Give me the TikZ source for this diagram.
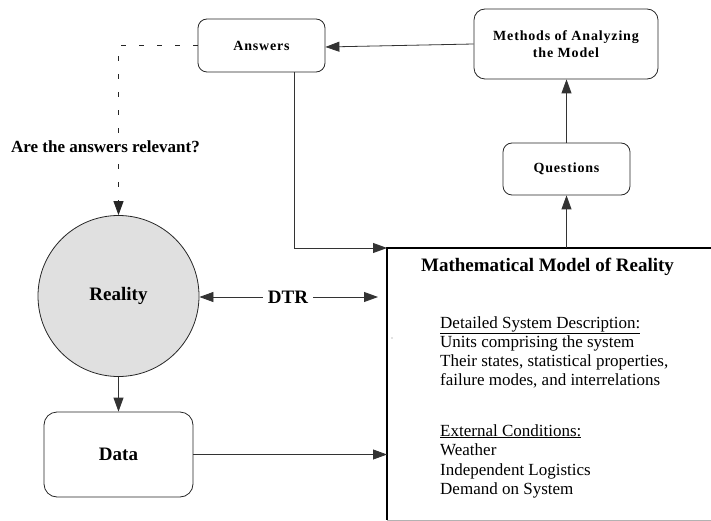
\documentclass[tikz,border=0pt]{standalone}
\usepackage{fontspec}
\setmainfont{Liberation Serif}
\newfontfamily\spacedbold[LetterSpace=6]{Liberation Serif}
\usetikzlibrary{arrows.meta,calc}

\begin{document}
\begin{tikzpicture}[x=1pt,y=-1pt,
  box/.style={draw=black!85, line width=0.8pt, rounded corners=9pt, inner sep=0pt, align=center},
  boxfont/.style={font=\spacedbold\bfseries\fontsize{14}{17}\selectfont},
  bigfont/.style={font=\bfseries\fontsize{19}{22}\selectfont},
  bodytext/.style={font=\fontsize{17}{19}\selectfont, anchor=base west, inner sep=0pt},
  arr/.style={draw=black!80, line width=0.8pt, -{Triangle[length=14pt,width=10pt]}},
  dasharr/.style={draw=black!85, line width=0.8pt, dash pattern=on 5pt off 13pt,
                  -{Triangle[length=14pt,width=10pt]}},
  edge/.style={draw=black, line width=1.2pt}
]
\useasboundingbox (0,0) rectangle (711,521);

% analysis chain
\node[box, boxfont, minimum width=127pt, minimum height=53pt] (answers) at (261.5,45.5) {Answers};
\node[box, boxfont, minimum width=184pt, minimum height=70pt, rounded corners=11pt] (methods) at (566,44) {Methods of Analyzing\\the Model};
\node[box, boxfont, minimum width=127pt, minimum height=52pt] (questions) at (566.5,169) {Questions};

% reality and data
\node[circle, draw=black!85, line width=0.8pt, fill=black!12, minimum size=161pt, inner sep=0pt, bigfont] (reality) at (118.5,296) {Reality};
\node[box, bigfont, minimum width=149pt, minimum height=85pt, rounded corners=13pt] (data) at (118.5,454.5) {Data};

% the model box (right side runs off the page)
\node[minimum width=324pt, minimum height=272pt, inner sep=0pt, anchor=north west] (model) at (387,248) {};
\draw[edge] (model.north east) -- (model.north west) -- (model.south west);
\draw[black!30, line width=0.8pt] (model.south west) -- (model.south east);

\node[bigfont, anchor=base, inner sep=0pt] (title) at (547.5,271) {Mathematical Model of Reality};
\node[bodytext] (d0) at (440,328) {\underline{Detailed System Description:}};
\node[bodytext] (d1) at (440,347.5) {Units comprising the system};
\node[bodytext] (d2) at (440,366.7) {Their states, statistical properties,};
\node[bodytext] (d3) at (440,385.8) {failure modes, and interrelations};
\node[bodytext] (e0) at (440,436) {\underline{External Conditions:}};
\node[bodytext] (e1) at (440,455) {Weather};
\node[bodytext] (e2) at (440,475) {Independent Logistics};
\node[bodytext] (e3) at (440,494) {Demand on System};
\fill[black!50] (392,338) circle (0.6pt);

% DTR link
\node[bigfont, inner sep=5pt] (dtr) at (288,297) {DTR};
\coordinate (dtrend) at (378,297);
\draw[arr] (dtr.west) -- (reality.east |- dtr.west);
\draw[arr] (dtr.east) -- (dtrend);

% connectors
\draw[arr] (methods.west |- answers.east) ++(0,-1.5) -- ([yshift=-1.5pt]answers.east);
\draw[arr] (questions.north) -- (methods.south -| questions.north);
\draw[arr] (questions.south |- model.north) -- (questions.south);
\draw[arr] ([xshift=32.5pt]answers.south) |- (model.north west);
\draw[arr] (reality.south) -- (data.north);
\draw[arr] (data.east) -- (data.east -| model.west);
\draw[dasharr] (answers.west) -| (reality.north);
\node[font=\bfseries\fontsize{17}{20}\selectfont, fill=white, inner sep=2pt] (relevant) at (105.5,147) {Are the answers relevant?};
\end{tikzpicture}
\end{document}
